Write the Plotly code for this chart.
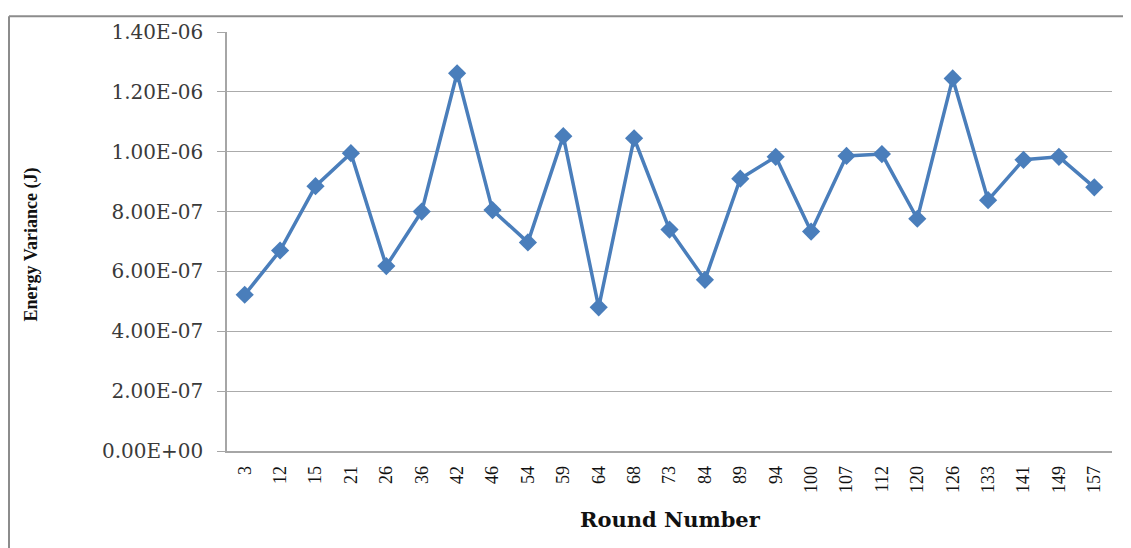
import plotly.graph_objects as go

rounds = ["3", "12", "15", "21", "26", "36", "42", "46", "54", "59", "64", "68",
          "73", "84", "89", "94", "100", "107", "112", "120", "126", "133", "141", "149", "157"]
energy_variance = [5.22e-7, 6.70e-7, 8.85e-7, 9.95e-7, 6.18e-7, 8.00e-7, 1.262e-6, 8.05e-7,
                   6.97e-7, 1.052e-6, 4.80e-7, 1.045e-6, 7.40e-7, 5.72e-7, 9.10e-7, 9.83e-7,
                   7.33e-7, 9.86e-7, 9.92e-7, 7.76e-7, 1.245e-6, 8.38e-7, 9.73e-7, 9.83e-7, 8.81e-7]
y_ticks = [0, 2e-7, 4e-7, 6e-7, 8e-7, 1e-6, 1.2e-6, 1.4e-6]
y_tick_labels = ["0.00E+00", "2.00E-07", "4.00E-07", "6.00E-07", "8.00E-07",
                 "1.00E-06", "1.20E-06", "1.40E-06"]

OFF = 8  # page body margin
W, H = 1131 - OFF, 548 - OFF
L, T = 227 - OFF, 25 - OFF
R = W - (1112 - OFF)
B = H - (451 - OFF)
pw, ph = W - L - R, H - T - B


def px(x):
    return (x - OFF - L) / pw


def py(y):
    return 1 - (y - OFF - T) / ph


fig = go.Figure()
fig.add_trace(go.Scatter(
    x=rounds, y=energy_variance, mode="lines+markers",
    line=dict(color="#4A7EBB", width=3.5),
    marker=dict(symbol="diamond", size=14, color="#4A7EBB"),
    showlegend=False,
))

fig.update_layout(
    width=W, height=H,
    margin=dict(l=L, r=R, t=T, b=B),
    paper_bgcolor="white", plot_bgcolor="white",
    font=dict(family="Liberation Serif", color="#222222"),
    xaxis=dict(
        type="category", tickangle=-90,
        tickfont=dict(size=18, family="Liberation Serif", color="#111111"),
        showgrid=False, showline=True, linecolor="#A6A6A6", linewidth=1.5,
        ticks="", ticklabelstandoff=6,
        range=[-0.5, len(rounds) - 0.5],
    ),
    yaxis=dict(
        range=[0, 1.4e-6], tickvals=y_ticks, ticktext=y_tick_labels,
        tickfont=dict(size=20, family="DejaVu Serif", color="#3A3A3A"),
        showgrid=True, gridcolor="#ABABAB", gridwidth=1.2,
        showline=True, linecolor="#A6A6A6", linewidth=1.5,
        ticks="outside", ticklen=8, tickcolor="#A6A6A6",
        ticklabelstandoff=10,
        zeroline=False,
    ),
    annotations=[
        dict(text="<b>Round Number</b>", xref="paper", yref="paper",
             x=px(670), y=py(521), showarrow=False, xanchor="center", yanchor="middle",
             font=dict(size=21, family="DejaVu Serif", color="#111111")),
        dict(text="<b>Energy Variance (J)</b>", xref="paper", yref="paper",
             x=px(31), y=py(241), showarrow=False, xanchor="center", yanchor="middle",
             textangle=-90,
             font=dict(size=18, family="Liberation Serif", color="#111111")),
    ],
)

# outer chart frame (left and top edges visible)
fig.add_shape(type="line", xref="paper", yref="paper",
              x0=px(9), x1=px(9), y0=py(9), y1=py(560),
              line=dict(color="#8C8C8C", width=2))
fig.add_shape(type="line", xref="paper", yref="paper",
              x0=px(9), x1=px(1140), y0=py(9), y1=py(9),
              line=dict(color="#8C8C8C", width=2))

fig.write_html("out.html")
